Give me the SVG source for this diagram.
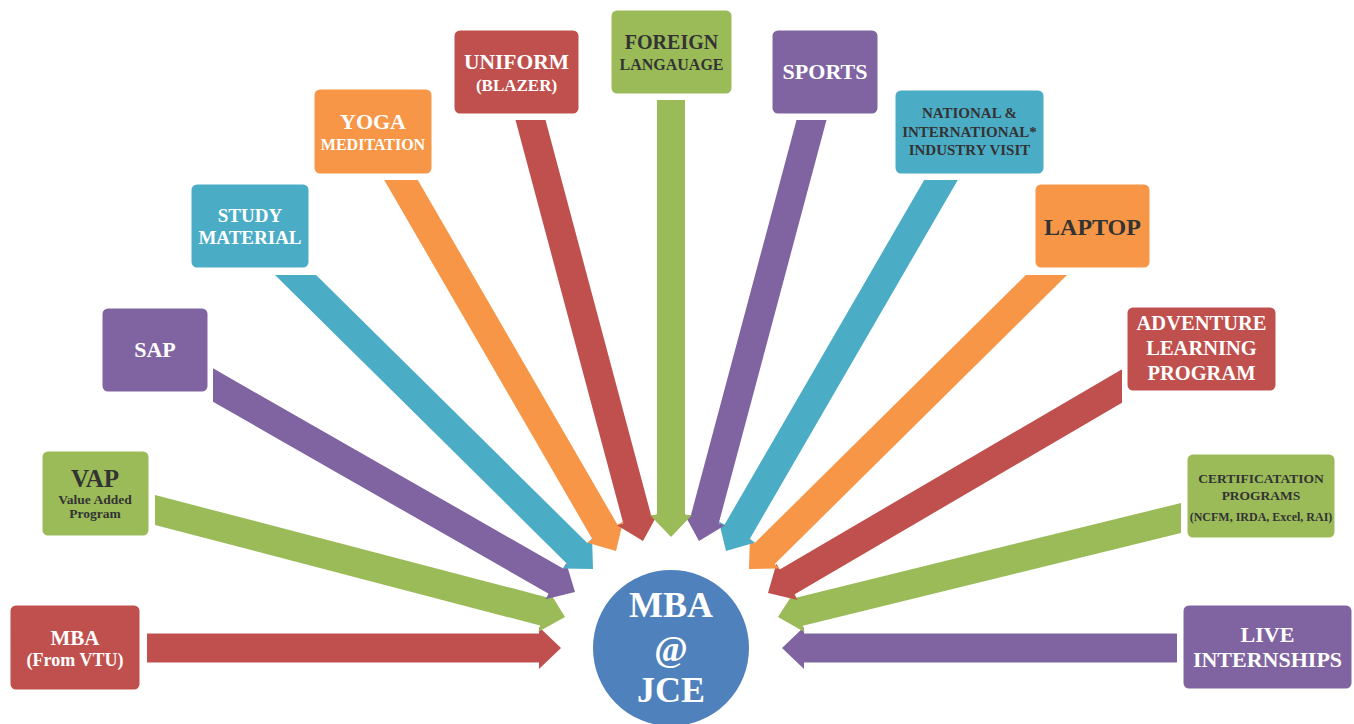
<svg xmlns="http://www.w3.org/2000/svg" width="1354" height="724" viewBox="0 0 1354 724">
<style>
.box{stroke:#fff;stroke-width:3}
.red{fill:#c0504d}.green{fill:#9bbb59}.purple{fill:#8064a2}.blue{fill:#4bacc6}.orange{fill:#f79646}
text{font-family:"Liberation Serif","Times New Roman",serif;font-weight:bold;text-anchor:middle}
.w{fill:#fff}.d{fill:#333}
</style>
<rect width="1354" height="724" fill="#fff"/>
<g id="connectors">
<polygon class="red" points="147,633.5 539,633.5 539,627 561,648 539,669 539,662.5 147,662.5"/>
<polygon class="purple" points="1177,633.5 804,633.5 804,627 782,648 804,669 804,662.5 1177,662.5"/>
<polygon class="green" points="155,495 547.4,597.4 549,591.1 565,617 538.4,631.8 540.1,625.5 155,525"/>
<polygon class="green" points="1181,503 795.9,597.7 794.4,591.4 778,617 804.4,632.1 802.8,625.8 1181,532.9"/>
<polygon class="purple" points="213,368.3 563.1,568.5 566.3,562.9 575,592 545.5,599.3 548.7,593.7 213,401.7"/>
<polygon class="red" points="1122,369.2 779.7,569.4 776.4,563.8 768,593 797.6,600 794.3,594.4 1122,402.8"/>
<polygon class="blue" points="316.1,275 587.5,543.2 592.1,538.6 593,569 562.6,568.5 567.2,563.9 275,275"/>
<polygon class="orange" points="1025.9,275 754.5,543.2 749.9,538.6 749,569 779.4,568.5 774.8,563.9 1067,275"/>
<polygon class="orange" points="417.8,180 617.5,524.7 623.1,521.4 616,551 586.8,542.5 592.4,539.2 384.2,180"/>
<polygon class="blue" points="924.2,180 724.5,524.7 718.9,521.4 726,551 755.2,542.5 749.6,539.2 957.8,180"/>
<polygon class="red" points="545.5,120 651.3,516 657.6,514.3 643,541 617,525.2 623.3,523.5 515.5,120"/>
<polygon class="purple" points="796.5,120 690.7,516 684.4,514.3 699,541 725,525.2 718.7,523.5 826.5,120"/>
<polygon class="green" points="657,100 657,515 650,515 671,537 692,515 685,515 685,100"/>
</g>
<g id="mba-vtu"><rect class="box red" x="9" y="604" width="132" height="87" rx="7"/>
<text class="w" x="75" y="645" font-size="21">MBA</text><text class="w" x="75" y="666" font-size="18">(From VTU)</text></g>
<g id="vap"><rect class="box green" x="41" y="450" width="109" height="87" rx="7"/>
<text class="d" x="95" y="487" font-size="25">VAP</text><text class="d" x="95" y="504" font-size="13.5">Value Added</text><text class="d" x="95" y="518" font-size="13.5">Program</text></g>
<g id="sap"><rect class="box purple" x="101" y="307" width="108" height="86" rx="7"/>
<text class="w" x="155" y="357" font-size="22">SAP</text></g>
<g id="study"><rect class="box blue" x="190" y="183" width="120" height="86" rx="7"/>
<text class="w" x="250" y="222" font-size="19">STUDY</text><text class="w" x="250" y="244" font-size="19">MATERIAL</text></g>
<g id="yoga"><rect class="box orange" x="313" y="88" width="120" height="87" rx="7"/>
<text class="w" x="373" y="129" font-size="22">YOGA</text><text class="w" x="373" y="150" font-size="16">MEDITATION</text></g>
<g id="uniform"><rect class="box red" x="453" y="29" width="127" height="86" rx="7"/>
<text class="w" x="516.5" y="69" font-size="21.5">UNIFORM</text><text class="w" x="516.5" y="91" font-size="17">(BLAZER)</text></g>
<g id="foreign"><rect class="box green" x="610" y="9" width="123" height="86" rx="7"/>
<text class="d" x="671.5" y="49" font-size="20">FOREIGN</text><text class="d" x="671.5" y="70" font-size="16">LANGAUAGE</text></g>
<g id="sports"><rect class="box purple" x="771" y="29" width="108" height="86" rx="7"/>
<text class="w" x="825" y="79" font-size="22">SPORTS</text></g>
<g id="national"><rect class="box blue" x="894" y="89" width="151" height="86" rx="7"/>
<text class="d" x="969.5" y="118" font-size="15">NATIONAL &amp;</text><text class="d" x="969.5" y="137" font-size="15">INTERNATIONAL*</text><text class="d" x="969.5" y="155" font-size="15">INDUSTRY VISIT</text></g>
<g id="laptop"><rect class="box orange" x="1034" y="183" width="117" height="86" rx="7"/>
<text class="d" x="1092.5" y="235" font-size="24">LAPTOP</text></g>
<g id="adventure"><rect class="box red" x="1126" y="306" width="151" height="86" rx="7"/>
<text class="w" x="1201.5" y="330" font-size="20.5">ADVENTURE</text><text class="w" x="1201.5" y="355" font-size="20.5">LEARNING</text><text class="w" x="1201.5" y="380" font-size="20.5">PROGRAM</text></g>
<g id="cert"><rect class="box green" x="1186" y="453" width="150" height="86" rx="7"/>
<text class="d" x="1261" y="483" font-size="13.5">CERTIFICATATION</text><text class="d" x="1261" y="500" font-size="13.5">PROGRAMS</text><text class="d" x="1261" y="521" font-size="12">(NCFM, IRDA, Excel, RAI)</text></g>
<g id="live"><rect class="box purple" x="1182" y="604" width="171" height="86" rx="7"/>
<text class="w" x="1267.5" y="642" font-size="22">LIVE</text><text class="w" x="1267.5" y="667" font-size="22">INTERNSHIPS</text></g>
<g id="center"><circle cx="671" cy="648" r="79" fill="#4f81bd" stroke="#fff" stroke-width="2"/>
<text class="w" x="671" y="617" font-size="36">MBA</text><text class="w" x="671" y="661" font-size="36">@</text><text class="w" x="671" y="702" font-size="36">JCE</text></g>
</svg>
